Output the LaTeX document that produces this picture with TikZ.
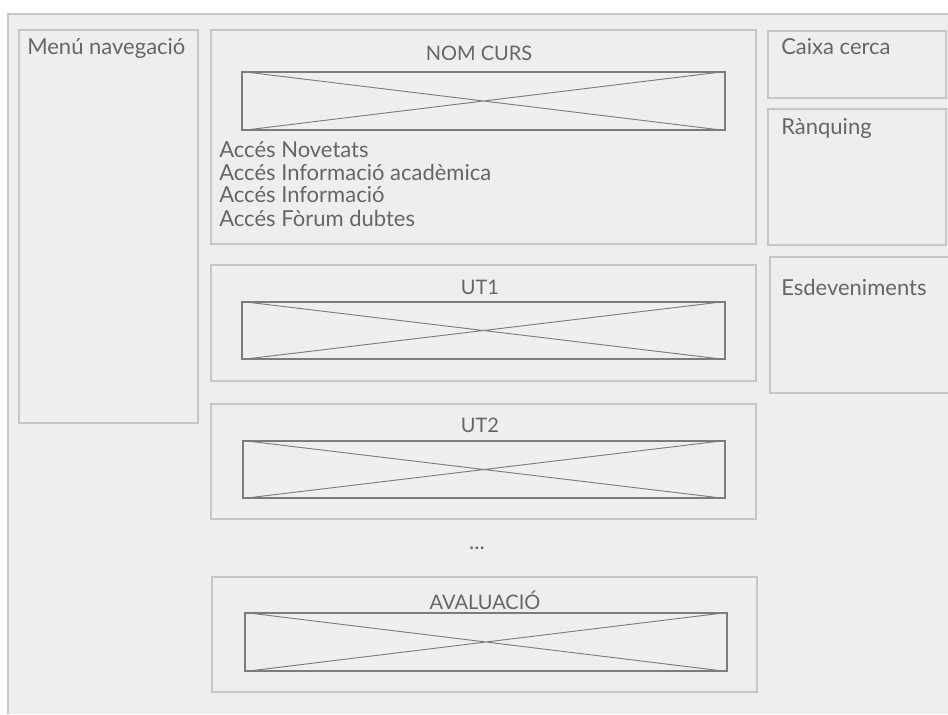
\documentclass[tikz,border=0pt]{standalone}
\usepackage{fontspec}
\setmainfont{Lato}
\usetikzlibrary{fit}
\definecolor{pagefill}{HTML}{EEEEEE}
\definecolor{panelline}{HTML}{C6C6C6}
\definecolor{imgline}{HTML}{7C7C7C}
\definecolor{textgray}{HTML}{666666}

\begin{document}
\begin{tikzpicture}[x=0.75pt, y=-0.75pt, line join=miter,
panel/.style={draw=panelline, line width=0.9pt, fill=pagefill, inner sep=0pt},
imgbox/.style={draw=imgline, line width=0.8pt, inner sep=0pt},
cross/.style={draw=imgline, line width=0.7pt},
lbl/.style={text=textgray, inner sep=0pt, font=\fontsize{16.5}{20}\selectfont},
title/.style={lbl, font=\fontsize{15}{18}\selectfont},
]
\useasboundingbox (0,0) rectangle (948,714);
\fill[white] (0,0) rectangle (948,714);
\fill[pagefill] (8,14) rectangle (948,714);
\draw[panelline, line width=0.9pt] (948,14) -- (8,14) -- (8,714);

% left column
\node[panel, fit={(19,30) (198,423)}] (menu) {};
\node[lbl, anchor=west] (menut) at (27,48) {Menú navegació};

% centre column
\node[panel, fit={(211,30) (756,244)}] (nom) {};
\node[title] (nomt) at (479,53) {NOM CURS};
\node[imgbox, fit={(242,72) (725,130)}] (nomimg) {};
\node[lbl, anchor=west] (acc1) at (219,150) {Accés Novetats};
\node[lbl, anchor=west] (acc2) at (219,172) {Accés Informació acadèmica};
\node[lbl, anchor=west] (acc3) at (219,195) {Accés Informació};
\node[lbl, anchor=west] (acc4) at (219,218) {Accés Fòrum dubtes};

\node[panel, fit={(211,265) (756,381)}] (ut1) {};
\node[title] (ut1t) at (480,287) {UT1};
\node[imgbox, fit={(242,302) (725,359)}] (ut1img) {};

\node[panel, fit={(211,404) (756,519)}] (ut2) {};
\node[title] (ut2t) at (480,425) {UT2};
\node[imgbox, fit={(243,441) (725,498)}] (ut2img) {};

\node[lbl] (dots) at (477,548) {...};

\node[panel, fit={(212,577) (757,692)}] (aval) {};
\node[title] (avalt) at (485,600) {AVALUACIÓ};
\node[imgbox, fit={(245,613) (727,671)}] (avalimg) {};

\foreach \im in {nomimg, ut1img, ut2img, avalimg}
  \draw[cross] (\im.north west) -- (\im.south east)
               (\im.south west) -- (\im.north east);

% right column
\node[panel, fit={(768,31) (946,98)}] (cerca) {};
\node[lbl, anchor=west] (cercat) at (781,47) {Caixa cerca};
\node[panel, fit={(768,109) (946,245)}] (rank) {};
\node[lbl, anchor=west] (rankt) at (781,128) {Rànquing};
\node[panel, fit={(770,257) (952,393)}] (esdev) {};
\node[lbl, anchor=west] (esdevt) at (781,287) {Esdeveniments};
\end{tikzpicture}
\end{document}
